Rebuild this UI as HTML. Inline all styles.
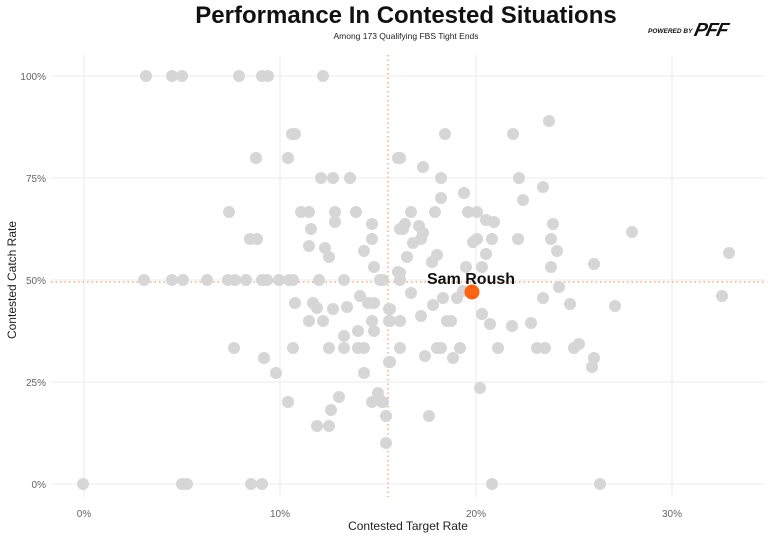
<!DOCTYPE html>
<html><head><meta charset="utf-8"><style>
body{margin:0;background:#fff}
svg{display:block;font-family:"Liberation Sans",sans-serif}
.d circle{r:6}
</style></head><body>
<svg width="768" height="538" viewBox="0 0 768 538" xmlns="http://www.w3.org/2000/svg">
<rect width="768" height="538" fill="#fff"/>
<text x="406" y="23" text-anchor="middle" font-size="24" font-weight="bold" fill="#111">Performance In Contested Situations</text>
<text x="406" y="39" text-anchor="middle" font-size="8.5" fill="#222">Among 173 Qualifying FBS Tight Ends</text>
<text x="648" y="33" font-size="6.5" font-weight="bold" font-style="italic" fill="#111">POWERED BY</text>
<text x="694" y="36" font-size="19" font-weight="900" font-style="italic" fill="#111" letter-spacing="-1" transform="skewX(-12) translate(7,0)">PFF</text>
<g stroke="#ebebeb" stroke-width="1">
<line x1="51" y1="76" x2="765" y2="76"/><line x1="51" y1="178" x2="765" y2="178"/><line x1="51" y1="280" x2="765" y2="280"/><line x1="51" y1="382" x2="765" y2="382"/><line x1="51" y1="484" x2="765" y2="484"/>
<line x1="84" y1="55" x2="84" y2="497"/><line x1="280" y1="55" x2="280" y2="497"/><line x1="476" y1="55" x2="476" y2="497"/><line x1="672" y1="55" x2="672" y2="497"/>
</g>
<g stroke="#f79a66" stroke-width="1.2" stroke-dasharray="1.5,3">
<line x1="51" y1="282" x2="765" y2="282"/><line x1="388" y1="55" x2="388" y2="497"/>
</g>
<g font-size="10" fill="#666" text-anchor="end">
<text x="46" y="80">100%</text><text x="46" y="182">75%</text><text x="46" y="284">50%</text><text x="46" y="386">25%</text><text x="46" y="488">0%</text>
</g>
<g font-size="10" fill="#666" text-anchor="middle">
<text x="84" y="517">0%</text><text x="280" y="517">10%</text><text x="476" y="517">20%</text><text x="672" y="517">30%</text>
</g>
<text x="408" y="530" text-anchor="middle" font-size="12" fill="#222">Contested Target Rate</text>
<text transform="translate(16,280) rotate(-90)" text-anchor="middle" font-size="12" fill="#222">Contested Catch Rate</text>
<g fill="#d6d6d6" class="d">
<circle cx="146" cy="76" r="6"/><circle cx="172" cy="76" r="6"/><circle cx="182" cy="76" r="6"/><circle cx="239" cy="76" r="6"/><circle cx="262" cy="76" r="6"/><circle cx="268" cy="76" r="6"/><circle cx="323" cy="76" r="6"/>
<circle cx="292" cy="134" r="6"/><circle cx="295" cy="134" r="6"/><circle cx="256" cy="158" r="6"/><circle cx="288" cy="158" r="6"/><circle cx="321" cy="178" r="6"/><circle cx="333" cy="178" r="6"/><circle cx="350" cy="178" r="6"/>
<circle cx="229" cy="212" r="6"/><circle cx="301" cy="212" r="6"/><circle cx="309" cy="212" r="6"/><circle cx="335" cy="212" r="6"/><circle cx="335" cy="222" r="6"/><circle cx="356" cy="212" r="6"/><circle cx="372" cy="224" r="6"/><circle cx="311" cy="229" r="6"/><circle cx="400" cy="229" r="6"/><circle cx="250" cy="239" r="6"/><circle cx="257" cy="239" r="6"/><circle cx="372" cy="239" r="6"/><circle cx="309" cy="246" r="6"/><circle cx="325" cy="248" r="6"/><circle cx="329" cy="257" r="6"/><circle cx="364" cy="251" r="6"/><circle cx="374" cy="267" r="6"/><circle cx="398" cy="158" r="6"/><circle cx="398" cy="272" r="6"/>
<circle cx="549" cy="121" r="6"/><circle cx="445" cy="134" r="6"/><circle cx="513" cy="134" r="6"/><circle cx="400" cy="158" r="6"/><circle cx="423" cy="167" r="6"/><circle cx="441" cy="178" r="6"/><circle cx="519" cy="178" r="6"/><circle cx="543" cy="187" r="6"/><circle cx="523" cy="200" r="6"/><circle cx="441" cy="198" r="6"/><circle cx="464" cy="193" r="6"/><circle cx="411" cy="212" r="6"/><circle cx="435" cy="212" r="6"/><circle cx="468" cy="212" r="6"/><circle cx="477" cy="212" r="6"/><circle cx="486" cy="220" r="6"/><circle cx="494" cy="222" r="6"/><circle cx="553" cy="224" r="6"/><circle cx="405" cy="224" r="6"/><circle cx="403" cy="229" r="6"/><circle cx="419" cy="226" r="6"/><circle cx="423" cy="233" r="6"/><circle cx="421" cy="239" r="6"/><circle cx="413" cy="243" r="6"/><circle cx="473" cy="242" r="6"/><circle cx="477" cy="239" r="6"/><circle cx="492" cy="239" r="6"/><circle cx="518" cy="239" r="6"/><circle cx="551" cy="239" r="6"/><circle cx="632" cy="232" r="6"/><circle cx="407" cy="257" r="6"/><circle cx="437" cy="255" r="6"/><circle cx="432" cy="262" r="6"/><circle cx="486" cy="254" r="6"/><circle cx="557" cy="251" r="6"/><circle cx="466" cy="267" r="6"/><circle cx="482" cy="267" r="6"/><circle cx="551" cy="267" r="6"/><circle cx="594" cy="264" r="6"/><circle cx="729" cy="253" r="6"/><circle cx="400" cy="273" r="6"/><circle cx="400" cy="280" r="6"/><circle cx="383" cy="280" r="6"/><circle cx="559" cy="287" r="6"/>
<circle cx="144" cy="280" r="6"/><circle cx="172" cy="280" r="6"/><circle cx="183" cy="280" r="6"/><circle cx="207" cy="280" r="6"/><circle cx="228" cy="280" r="6"/><circle cx="235" cy="280" r="6"/><circle cx="246" cy="280" r="6"/><circle cx="262" cy="280" r="6"/><circle cx="267" cy="280" r="6"/><circle cx="279" cy="280" r="6"/><circle cx="289" cy="280" r="6"/><circle cx="293" cy="280" r="6"/><circle cx="319" cy="280" r="6"/><circle cx="344" cy="280" r="6"/><circle cx="380" cy="280" r="6"/>
<circle cx="295" cy="303" r="6"/><circle cx="313" cy="303" r="6"/><circle cx="317" cy="308" r="6"/><circle cx="333" cy="309" r="6"/><circle cx="347" cy="307" r="6"/><circle cx="360" cy="296" r="6"/><circle cx="368" cy="303" r="6"/><circle cx="374" cy="303" r="6"/><circle cx="389" cy="309" r="6"/><circle cx="309" cy="321" r="6"/><circle cx="323" cy="321" r="6"/><circle cx="372" cy="321" r="6"/><circle cx="389" cy="321" r="6"/><circle cx="374" cy="331" r="6"/><circle cx="358" cy="331" r="6"/><circle cx="344" cy="336" r="6"/><circle cx="234" cy="348" r="6"/><circle cx="264" cy="358" r="6"/><circle cx="276" cy="373" r="6"/><circle cx="293" cy="348" r="6"/><circle cx="329" cy="348" r="6"/><circle cx="344" cy="348" r="6"/><circle cx="358" cy="348" r="6"/><circle cx="364" cy="348" r="6"/><circle cx="389" cy="362" r="6"/><circle cx="364" cy="373" r="6"/><circle cx="378" cy="393" r="6"/><circle cx="372" cy="402" r="6"/><circle cx="382" cy="402" r="6"/><circle cx="386" cy="416" r="6"/><circle cx="339" cy="397" r="6"/><circle cx="331" cy="410" r="6"/><circle cx="288" cy="402" r="6"/><circle cx="317" cy="426" r="6"/><circle cx="329" cy="426" r="6"/><circle cx="386" cy="443" r="6"/>
<circle cx="83" cy="484" r="6"/><circle cx="182" cy="484" r="6"/><circle cx="187" cy="484" r="6"/><circle cx="251" cy="484" r="6"/><circle cx="262" cy="484" r="6"/>
<circle cx="390" cy="309" r="6"/><circle cx="390" cy="321" r="6"/><circle cx="400" cy="321" r="6"/><circle cx="411" cy="293" r="6"/><circle cx="433" cy="305" r="6"/><circle cx="443" cy="298" r="6"/><circle cx="457" cy="298" r="6"/><circle cx="463" cy="291" r="6"/><circle cx="421" cy="316" r="6"/><circle cx="447" cy="321" r="6"/><circle cx="451" cy="321" r="6"/><circle cx="482" cy="314" r="6"/><circle cx="490" cy="324" r="6"/><circle cx="512" cy="326" r="6"/><circle cx="531" cy="323" r="6"/><circle cx="543" cy="298" r="6"/><circle cx="570" cy="304" r="6"/><circle cx="615" cy="306" r="6"/><circle cx="722" cy="296" r="6"/><circle cx="400" cy="348" r="6"/><circle cx="425" cy="356" r="6"/><circle cx="437" cy="348" r="6"/><circle cx="441" cy="348" r="6"/><circle cx="460" cy="348" r="6"/><circle cx="453" cy="358" r="6"/><circle cx="498" cy="348" r="6"/><circle cx="537" cy="348" r="6"/><circle cx="545" cy="348" r="6"/><circle cx="574" cy="348" r="6"/><circle cx="579" cy="344" r="6"/><circle cx="594" cy="358" r="6"/><circle cx="592" cy="367" r="6"/><circle cx="390" cy="362" r="6"/><circle cx="480" cy="388" r="6"/><circle cx="429" cy="416" r="6"/><circle cx="383" cy="402" r="6"/><circle cx="492" cy="484" r="6"/><circle cx="600" cy="484" r="6"/>
</g>
<circle cx="472" cy="292" r="7.5" fill="#fa6414"/>
<text x="427" y="284" font-size="16" font-weight="bold" fill="#111">Sam Roush</text>
</svg>
</body></html>
